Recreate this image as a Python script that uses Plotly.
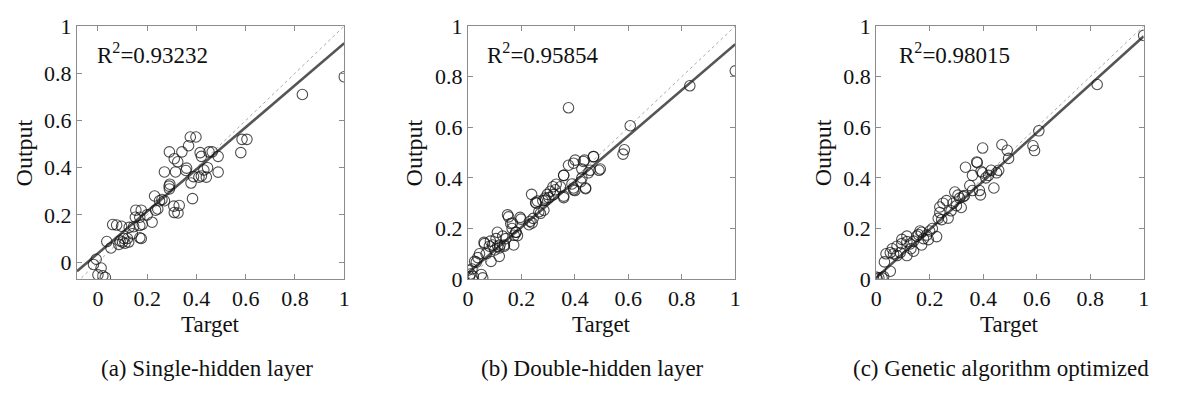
import plotly.graph_objects as go

# ---------------- data ----------------
a_target = [1.0, 0.83, 0.585, 0.605, 0.58, 0.375, 0.398, 0.368, 0.29, 0.341, 0.31, 0.324,
            0.415, 0.42, 0.451, 0.464, 0.488, 0.27, 0.315, 0.357, 0.36, 0.388, 0.41, 0.42,
            0.43, 0.445, 0.488, 0.378, 0.289, 0.29, 0.292, 0.384, 0.308, 0.33, 0.31, 0.325,
            0.23, 0.25, 0.26, 0.234, 0.243, 0.22, 0.154, 0.176, 0.152, 0.17, 0.18, 0.17,
            0.145, 0.06, 0.076, 0.096, 0.127, 0.17, 0.176, 0.036, 0.053, 0.09, 0.1, 0.11,
            0.105, 0.125, 0.085, 0.12, -0.007, -0.018, 0.013, 0.0, 0.02, 0.03, 0.2, 0.27,
            0.14, 0.44]
a_output = [0.785, 0.71, 0.52, 0.52, 0.464, 0.53, 0.53, 0.493, 0.467, 0.467, 0.438, 0.425,
            0.464, 0.448, 0.467, 0.467, 0.448, 0.382, 0.382, 0.388, 0.398, 0.362, 0.36, 0.365,
            0.39, 0.40, 0.381, 0.335, 0.322, 0.31, 0.33, 0.269, 0.237, 0.24, 0.21, 0.208,
            0.28, 0.26, 0.265, 0.22, 0.225, 0.169, 0.22, 0.22, 0.19, 0.19, 0.16, 0.155,
            0.15, 0.159, 0.157, 0.152, 0.147, 0.103, 0.10, 0.087, 0.06, 0.09, 0.085, 0.08,
            0.10, 0.085, 0.075, 0.10, 0.012, -0.01, -0.025, -0.054, -0.058, -0.065, 0.2, 0.26,
            0.12, 0.36]

b_target = [1.0, 0.83, 0.376, 0.607, 0.585, 0.58, 0.469, 0.436, 0.401, 0.395, 0.376, 0.358,
            0.49, 0.495, 0.457, 0.426, 0.426, 0.422, 0.44, 0.389, 0.395, 0.40, 0.358, 0.33,
            0.318, 0.308, 0.297, 0.288, 0.28, 0.26, 0.255, 0.238, 0.271, 0.244, 0.232, 0.195,
            0.16, 0.165, 0.18, 0.185, 0.148, 0.152, 0.171, 0.136, 0.111, 0.06, 0.084, 0.08,
            0.1, 0.117, 0.068, 0.086, 0.037, 0.025, 0.043, 0.0, 0.01, 0.005, 0.02, 0.05,
            0.055, 0.198, 0.166, 0.228, 0.24, 0.265, 0.284, 0.253, 0.29, 0.302, 0.32, 0.327,
            0.346, 0.358, 0.395, 0.44, 0.432, 0.47, 0.45, 0.358, 0.11, 0.13, 0.105, 0.142,
            0.173, 0.179, 0.062, 0.092, 0.12, 0.136, 0.117, 0.031, 0.015]
b_output = [0.823, 0.764, 0.677, 0.606, 0.511, 0.494, 0.484, 0.47, 0.47, 0.458, 0.45, 0.41,
            0.43, 0.435, 0.43, 0.435, 0.40, 0.385, 0.36, 0.376, 0.36, 0.35, 0.328, 0.375,
            0.365, 0.347, 0.335, 0.32, 0.31, 0.308, 0.30, 0.335, 0.26, 0.24, 0.228, 0.244,
            0.22, 0.20, 0.185, 0.172, 0.254, 0.246, 0.135, 0.135, 0.13, 0.145, 0.15, 0.13,
            0.115, 0.09, 0.10, 0.07, 0.085, 0.07, 0.10, 0.035, 0.02, 0.01, 0.01, 0.018,
            0.005, 0.237, 0.222, 0.215, 0.222, 0.266, 0.272, 0.303, 0.312, 0.322, 0.334, 0.353,
            0.365, 0.322, 0.353, 0.357, 0.465, 0.484, 0.42, 0.41, 0.185, 0.17, 0.16, 0.16,
            0.173, 0.185, 0.14, 0.135, 0.135, 0.13, 0.123, 0.067, 0.04]

c_target = [1.0, 0.826, 0.608, 0.586, 0.592, 0.47, 0.398, 0.49, 0.495, 0.334, 0.376, 0.378,
            0.36, 0.35, 0.392, 0.398, 0.43, 0.42, 0.41, 0.458, 0.44, 0.386, 0.39, 0.36,
            0.294, 0.306, 0.312, 0.325, 0.33, 0.288, 0.318, 0.263, 0.25, 0.238, 0.238, 0.269,
            0.232, 0.245, 0.226, 0.164, 0.17, 0.158, 0.189, 0.177, 0.195, 0.17, 0.152, 0.115,
            0.096, 0.115, 0.127, 0.096, 0.078, 0.06, 0.115, 0.14, 0.065, 0.078, 0.09, 0.037,
            0.053, 0.031, 0.053, 0.0, 0.01, 0.022, 0.004, 0.028, 0.2, 0.21, 0.28, 0.3,
            0.45, 0.14, 0.13]
c_output = [0.963, 0.769, 0.586, 0.527, 0.508, 0.531, 0.518, 0.509, 0.477, 0.442, 0.463, 0.46,
            0.41, 0.37, 0.426, 0.42, 0.43, 0.41, 0.40, 0.43, 0.36, 0.35, 0.333, 0.35,
            0.344, 0.332, 0.32, 0.326, 0.33, 0.30, 0.283, 0.31, 0.30, 0.285, 0.263, 0.241,
            0.24, 0.235, 0.168, 0.19, 0.185, 0.176, 0.174, 0.16, 0.156, 0.135, 0.17, 0.17,
            0.157, 0.148, 0.139, 0.14, 0.13, 0.12, 0.093, 0.11, 0.10, 0.093, 0.105, 0.10,
            0.105, 0.068, 0.031, 0.008, 0.005, 0.005, 0.0, 0.01, 0.19, 0.2, 0.27, 0.29,
            0.42, 0.15, 0.12]

r2_labels = ["0.93232", "0.95854", "0.98015"]
fit_slope = [0.89, 0.904, 0.955]
fit_intercept = [0.037, 0.024, 0.005]
captions = ["(a) Single-hidden layer", "(b) Double-hidden layer", "(c) Genetic algorithm optimized"]
tick_vals = [0, 0.2, 0.4, 0.6, 0.8, 1]
tick_text = ["0", "0.2", "0.4", "0.6", "0.8", "1"]
x_ranges = [[-0.085, 1.0], [0.0, 1.0], [0.0, 1.0]]
y_ranges = [[-0.072, 1.0], [0.0, 1.0], [0.0, 1.0]]

# ---------------- layout geometry (pixels) ----------------
W, H = 1190, 398
panel_px = [(71.7, 341.7), (466.7, 736.7), (879.0, 1149.3)]
top_px, bot_px = 15, 285
ylabel_x = [18, 412, 825]
r2_x = [90, 484, 900]
caption_x = [203, 592, 1005]

FONT = "Liberation Serif, Times New Roman, serif"
fig = go.Figure()

series = [(a_target, a_output), (b_target, b_output), (c_target, c_output)]
for i, (tx, ty) in enumerate(series):
    xa = "x" if i == 0 else f"x{i+1}"
    ya = "y" if i == 0 else f"y{i+1}"
    x0, x1 = x_ranges[i][0], 1.0
    fig.add_trace(go.Scatter(x=[x0, x1], y=[x0, x1], mode="lines", xaxis=xa, yaxis=ya,
                             line=dict(color="#aaaaaa", width=1, dash="dot"),
                             showlegend=False, hoverinfo="skip"))
    fig.add_trace(go.Scatter(x=[x0, x1],
                             y=[fit_slope[i] * x0 + fit_intercept[i], fit_slope[i] * x1 + fit_intercept[i]],
                             mode="lines", xaxis=xa, yaxis=ya,
                             line=dict(color="#555555", width=2.6),
                             showlegend=False, hoverinfo="skip"))
    fig.add_trace(go.Scatter(x=tx, y=ty, mode="markers", xaxis=xa, yaxis=ya,
                             marker=dict(symbol="circle-open", size=10.5,
                                         color="rgba(20,20,20,0.75)",
                                         line=dict(width=1.1, color="rgba(20,20,20,0.75)")),
                             showlegend=False))

layout = dict(width=W, height=H, margin=dict(l=0, r=0, t=0, b=0),
              plot_bgcolor="white", paper_bgcolor="white",
              font=dict(family=FONT, color="#111111"))
ydom = [1 - bot_px / H, 1 - top_px / H]
annotations = []
for i in range(3):
    sfx = "" if i == 0 else str(i + 1)
    xd = [panel_px[i][0] / W, panel_px[i][1] / W]
    axis_common = dict(showgrid=False, zeroline=False, showline=True, linecolor="#8c8c8c",
                       linewidth=1, mirror="ticks", ticks="inside", ticklen=5,
                       tickcolor="#8c8c8c", tickvals=tick_vals, ticktext=tick_text,
                       tickfont=dict(family=FONT, size=22, color="#111111"))
    layout["xaxis" + sfx] = dict(domain=xd, range=x_ranges[i],
                                 anchor="y" + sfx, **axis_common)
    layout["yaxis" + sfx] = dict(domain=ydom, range=y_ranges[i],
                                 anchor="x" + sfx, **axis_common)
    cx = (panel_px[i][0] + panel_px[i][1]) / 2
    annotations.append(dict(text="Target", x=cx / W, y=1 - 333 / H, xref="paper", yref="paper",
                            showarrow=False, xanchor="center", yanchor="middle",
                            font=dict(family=FONT, size=23, color="#111111")))
    annotations.append(dict(text="Output", x=ylabel_x[i] / W, y=1 - 150 / H, xref="paper", yref="paper",
                            showarrow=False, xanchor="center", yanchor="middle", textangle=-90,
                            font=dict(family=FONT, size=24, color="#111111")))
    annotations.append(dict(text="R<sup>2</sup>=" + r2_labels[i], x=r2_x[i] / W, y=1 - 44 / H,
                            xref="paper", yref="paper", showarrow=False,
                            xanchor="left", yanchor="middle",
                            font=dict(family=FONT, size=23, color="#111111")))
    annotations.append(dict(text=captions[i], x=caption_x[i] / W, y=1 - 380 / H,
                            xref="paper", yref="paper", showarrow=False,
                            xanchor="center", yanchor="middle",
                            font=dict(family=FONT, size=23, color="#111111")))
layout["annotations"] = annotations
fig.update_layout(**layout)
fig.write_html("out.html")
